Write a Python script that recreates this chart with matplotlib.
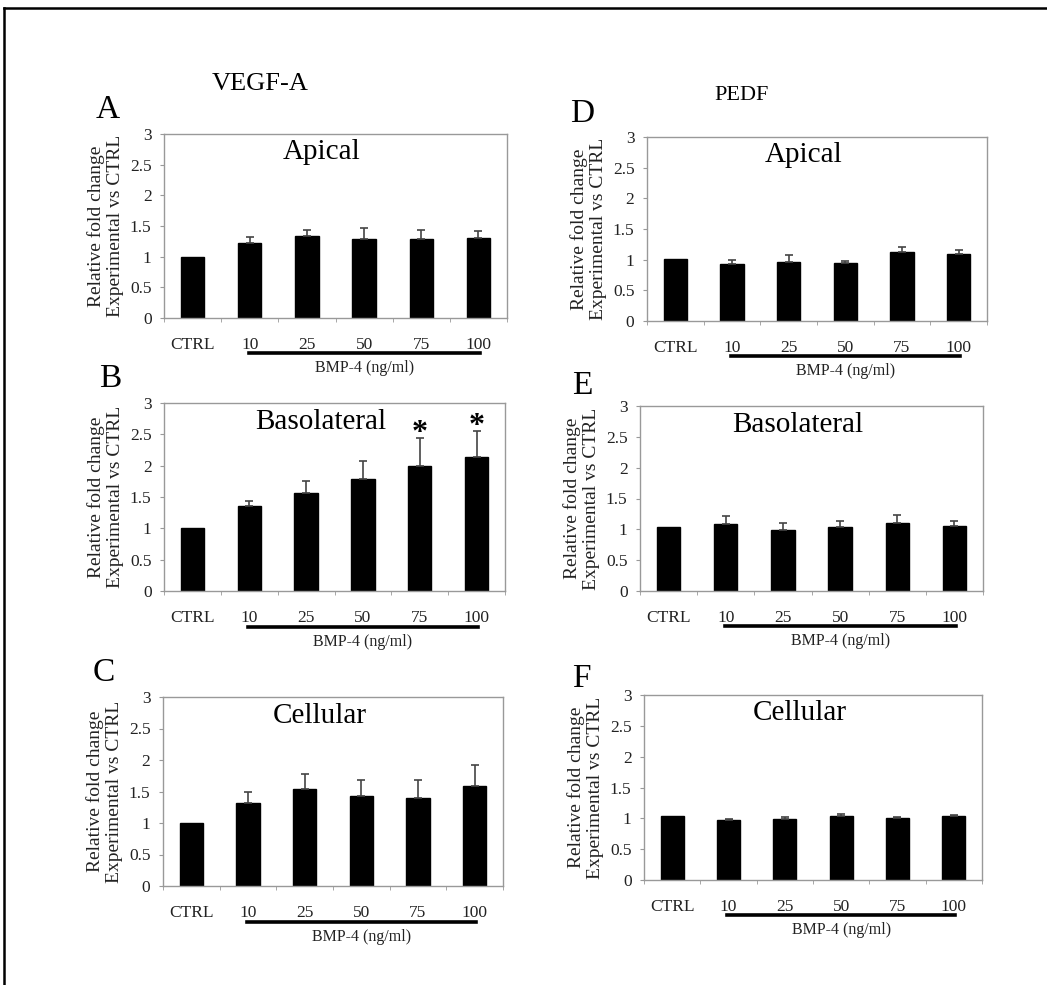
import numpy as np
import matplotlib
matplotlib.use("Agg")
import matplotlib.pyplot as plt
from matplotlib.lines import Line2D
import matplotlib.transforms as mtransforms

plt.rcParams['font.family'] = ['Liberation Serif', 'DejaVu Serif']

W, H = 1047, 985

categories = ['CTRL', '10', '25', '50', '75', '100']

vegf_apical = [1.00, 1.22, 1.34, 1.29, 1.28, 1.30]
vegf_apical_err = [0, 0.10, 0.09, 0.17, 0.15, 0.12]
vegf_baso = [1.00, 1.35, 1.57, 1.78, 2.00, 2.14]
vegf_baso_err = [0, 0.08, 0.18, 0.29, 0.44, 0.42]
vegf_cell = [1.00, 1.31, 1.54, 1.43, 1.40, 1.58]
vegf_cell_err = [0, 0.18, 0.24, 0.25, 0.28, 0.34]

pedf_apical = [1.01, 0.93, 0.97, 0.95, 1.12, 1.09]
pedf_apical_err = [0, 0.07, 0.10, 0.03, 0.09, 0.07]
pedf_baso = [1.04, 1.09, 0.99, 1.03, 1.10, 1.05]
pedf_baso_err = [0, 0.12, 0.12, 0.10, 0.14, 0.08]
pedf_cell = [1.04, 0.97, 0.99, 1.04, 1.01, 1.03]
pedf_cell_err = [0, 0.02, 0.03, 0.03, 0.01, 0.03]

significant_baso = ['75', '100']


def px_rect(left, right, top, bottom):
    """Axes rectangle from pixel edges of the reference image."""
    return [left / W, 1 - bottom / H, (right - left) / W, (bottom - top) / H]


def draw_panel(fig, rect, values, errs, subtitle, letter, letter_xy, stars=()):
    ax = fig.add_axes(px_rect(*rect))
    x = np.arange(len(categories))
    ax.bar(x, values, width=0.41, color='black', edgecolor='black', zorder=2)
    # upper-only error bars, CTRL has none
    lower = np.zeros(len(categories) - 1)
    ax.errorbar(x[1:], values[1:], yerr=[lower, errs[1:]], fmt='none',
                ecolor='#444444', elinewidth=1.2, capsize=3, capthick=1.2, zorder=3)

    ax.set_xlim(-0.5, len(categories) - 0.5)
    ax.set_ylim(0, 3)
    ax.set_yticks([0, 0.5, 1, 1.5, 2, 2.5, 3])
    ax.set_yticklabels(['0', '0.5', '1', '1.5', '2', '2.5', '3'])
    ax.set_xticks(x)
    ax.set_xticklabels(categories)
    ax.set_xticks(np.arange(len(categories) + 1) - 0.5, minor=True)
    ax.tick_params(axis='x', which='major', length=0, pad=14, labelsize=12.5,
                   labelcolor='#222222')
    ax.tick_params(axis='x', which='minor', length=3, color='#999999', direction='out')
    ax.tick_params(axis='y', length=3, color='#999999', pad=6, labelsize=12.5,
                   labelcolor='#222222')
    for side in ax.spines.values():
        side.set_color('#999999')
        side.set_linewidth(1.0)

    ax.set_ylabel('Relative fold change\nExperimental vs CTRL', fontsize=14,
                  color='#222222', labelpad=4, linespacing=1.15)
    ax.text(0.46, 0.90, subtitle, transform=ax.transAxes, ha='center', va='center',
            fontsize=21)

    # treatment bar under 10..100
    trans = mtransforms.blended_transform_factory(ax.transData, ax.transAxes)
    ax.add_line(Line2D([0.98, 5.02], [-0.19, -0.19], transform=trans, color='black',
                       linewidth=2.6, clip_on=False))
    ax.text(3.0, -0.27, 'BMP-4 (ng/ml)', transform=trans, ha='center', va='center',
            fontsize=11.5, color='#222222')

    for cat in stars:
        i = categories.index(cat)
        ax.text(i, values[i] + errs[i] - 0.05, '*', ha='center', va='baseline',
                fontsize=23, fontweight='bold')

    fig.text(letter_xy[0] / W, 1 - letter_xy[1] / H, letter, ha='center', va='center',
             fontsize=24)
    return ax


fig = plt.figure(figsize=(W / 100, H / 100), dpi=100)

# outer frame (left and top edges are visible in the reference)
fig.add_artist(Line2D([4 / W, 4 / W], [0, 1 - 8 / H], color='black', linewidth=1.8))
fig.add_artist(Line2D([4 / W, 1], [1 - 8 / H, 1 - 8 / H], color='black', linewidth=1.8))

fig.text(260 / W, 1 - 84 / H, 'VEGF-A', ha='center', va='center', fontsize=19)
fig.text(742 / W, 1 - 96 / H, 'PEDF', ha='center', va='center', fontsize=16)

draw_panel(fig, (164, 507, 134, 318), vegf_apical, vegf_apical_err, 'Apical', 'A', (108, 110))
draw_panel(fig, (164, 505, 403, 591), vegf_baso, vegf_baso_err, 'Basolateral', 'B', (110, 379),
           stars=significant_baso)
draw_panel(fig, (163, 503, 697, 886), vegf_cell, vegf_cell_err, 'Cellular', 'C', (104, 673))
draw_panel(fig, (647, 987, 137, 321), pedf_apical, pedf_apical_err, 'Apical', 'D', (582, 114))
draw_panel(fig, (640, 983, 406, 591), pedf_baso, pedf_baso_err, 'Basolateral', 'E', (582, 386))
draw_panel(fig, (644, 982, 695, 880), pedf_cell, pedf_cell_err, 'Cellular', 'F', (581, 679))

fig.savefig('out.png', dpi=100)
